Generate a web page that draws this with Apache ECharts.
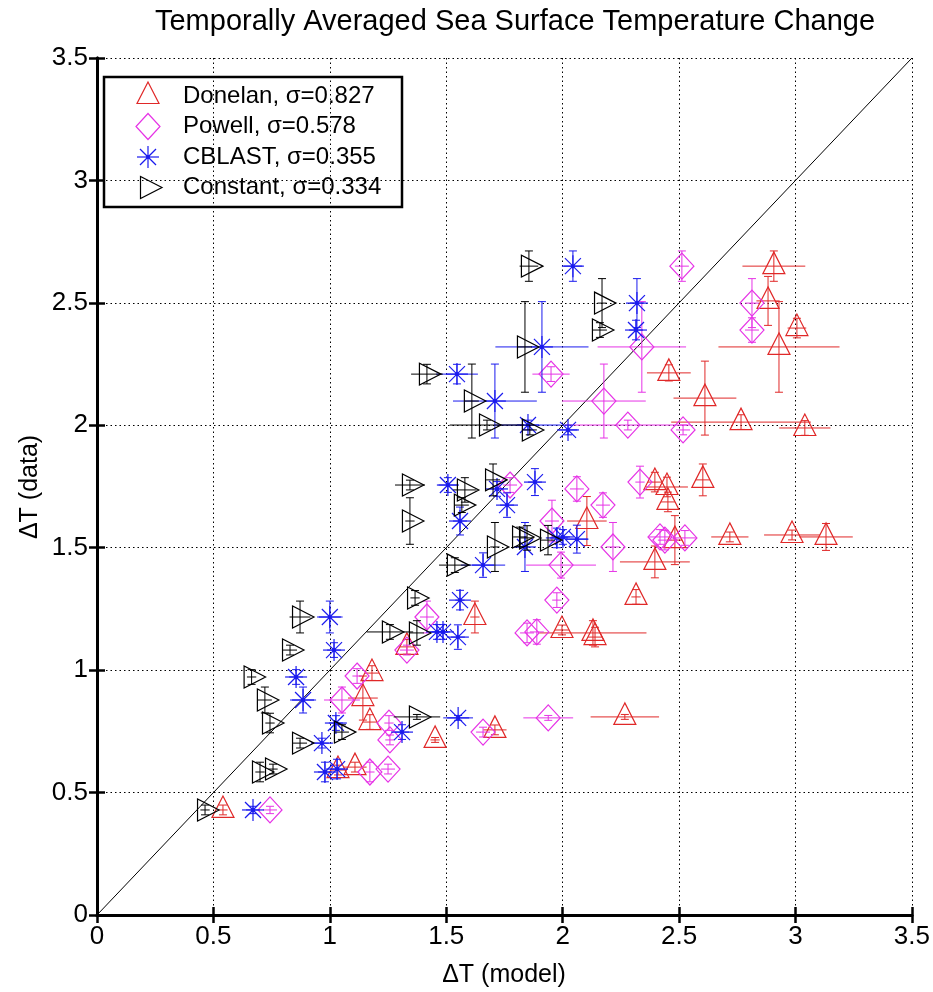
<!DOCTYPE html>
<html>
<head>
<meta charset="utf-8">
<script src="https://cdn.jsdelivr.net/npm/echarts@6/dist/echarts.min.js"></script>
<style>html,body{margin:0;padding:0;background:#fff}#main{width:933px;height:992px}</style>
</head>
<body>
<div id="main"></div>
<script>
// Donelan (red triangles)
var donelanX = [2.907, 2.882, 3.006, 2.929, 2.456, 2.611, 2.766, 3.040, 2.602, 2.396, 2.448, 2.452, 2.104, 2.482, 2.718, 2.985, 3.131, 2.396, 2.315, 1.623, 1.997, 2.130, 2.139, 1.331, 1.181, 1.142, 1.172, 2.267, 1.709, 1.452, 1.035, 1.108, 0.541];
var donelanY = [2.650, 2.508, 2.397, 2.320, 2.214, 2.111, 2.013, 1.989, 1.777, 1.768, 1.748, 1.687, 1.609, 1.531, 1.544, 1.552, 1.544, 1.442, 1.299, 1.217, 1.164, 1.152, 1.135, 1.095, 0.988, 0.886, 0.788, 0.809, 0.756, 0.715, 0.592, 0.604, 0.429];
var donelanXErr = [0.135, 0.05, 0.04, 0.26, 0.094, 0.135, 0.30, 0.11, 0.03, 0.03, 0.09, 0.03, 0.085, 0.03, 0.08, 0.12, 0.115, 0.15, 0.02, 0.02, 0.03, 0.23, 0.03, 0.03, 0.03, 0.064, 0.03, 0.147, 0.05, 0.02, 0.03, 0.05, 0.02];
var donelanYErr = [0.062, 0.10, 0.04, 0.185, 0.033, 0.151, 0.03, 0.03, 0.065, 0.04, 0.04, 0.04, 0.10, 0.10, 0.02, 0.02, 0.055, 0.065, 0.03, 0.065, 0.02, 0.05, 0.04, 0.03, 0.03, 0.09, 0.03, 0.01, 0.02, 0.01, 0.02, 0.02, 0.02];

// Powell (magenta diamonds)
var powellX = [2.512, 2.813, 2.813, 2.340, 1.950, 2.177, 2.280, 2.517, 2.332, 1.774, 2.061, 2.173, 1.954, 2.216, 2.418, 2.439, 2.525, 1.993, 1.975, 1.417, 1.847, 1.889, 1.331, 1.117, 1.052, 1.254, 1.938, 1.658, 1.258, 1.172, 1.250, 0.743];
var powellY = [2.650, 2.499, 2.389, 2.320, 2.209, 2.099, 2.001, 1.981, 1.768, 1.756, 1.740, 1.674, 1.609, 1.503, 1.544, 1.531, 1.540, 1.429, 1.286, 1.217, 1.152, 1.156, 1.082, 0.976, 0.878, 0.784, 0.805, 0.747, 0.715, 0.584, 0.596, 0.429];
var powellXErr = [0.03, 0.03, 0.03, 0.19, 0.08, 0.18, 0.27, 0.03, 0.02, 0.03, 0.03, 0.03, 0.03, 0.03, 0.05, 0.03, 0.05, 0.15, 0.02, 0.03, 0.03, 0.03, 0.03, 0.02, 0.077, 0.02, 0.107, 0.03, 0.02, 0.02, 0.03, 0.03];
var powellYErr = [0.062, 0.10, 0.05, 0.185, 0.03, 0.151, 0.02, 0.02, 0.065, 0.03, 0.05, 0.05, 0.085, 0.10, 0.03, 0.04, 0.03, 0.053, 0.03, 0.065, 0.04, 0.05, 0.02, 0.03, 0.053, 0.03, 0.01, 0.02, 0.02, 0.04, 0.02, 0.015];

// CBLAST (blue asterisks)
var cblastX = [2.044, 2.319, 2.315, 1.911, 1.546, 1.709, 1.851, 2.023, 1.881, 1.507, 1.718, 1.761, 1.559, 1.838, 1.975, 2.001, 2.061, 1.658, 1.559, 1.000, 1.460, 1.486, 1.550, 1.018, 0.855, 0.885, 1.026, 1.551, 1.310, 0.966, 0.979, 1.031, 0.670];
var cblastY = [2.650, 2.499, 2.389, 2.320, 2.209, 2.099, 2.001, 1.981, 1.768, 1.756, 1.740, 1.674, 1.609, 1.503, 1.540, 1.544, 1.535, 1.429, 1.286, 1.217, 1.156, 1.156, 1.135, 1.082, 0.972, 0.878, 0.784, 0.805, 0.747, 0.702, 0.584, 0.596, 0.429];
var cblastXErr = [0.04, 0.03, 0.03, 0.20, 0.09, 0.18, 0.14, 0.04, 0.03, 0.04, 0.03, 0.03, 0.03, 0.02, 0.03, 0.03, 0.05, 0.095, 0.02, 0.055, 0.03, 0.03, 0.03, 0.03, 0.03, 0.056, 0.03, 0.064, 0.03, 0.03, 0.03, 0.03, 0.03];
var cblastYErr = [0.062, 0.10, 0.04, 0.185, 0.04, 0.151, 0.02, 0.02, 0.055, 0.03, 0.03, 0.05, 0.057, 0.10, 0.04, 0.03, 0.057, 0.05, 0.04, 0.065, 0.03, 0.03, 0.05, 0.03, 0.03, 0.053, 0.03, 0.01, 0.03, 0.02, 0.04, 0.04, 0.015];

// Constant (black right triangles)
var constantX = [1.855, 2.169, 2.160, 1.838, 1.417, 1.610, 1.675, 1.859, 1.701, 1.344, 1.580, 1.567, 1.344, 1.709, 1.817, 1.847, 1.937, 1.537, 1.366, 0.872, 1.258, 1.374, 0.829, 0.664, 0.721, 1.374, 0.743, 1.052, 0.872, 0.700, 0.756, 0.464];
var constantY = [2.650, 2.499, 2.389, 2.320, 2.209, 2.099, 2.001, 1.981, 1.777, 1.756, 1.736, 1.674, 1.609, 1.503, 1.544, 1.540, 1.531, 1.429, 1.295, 1.217, 1.156, 1.152, 1.082, 0.972, 0.878, 0.809, 0.784, 0.747, 0.702, 0.584, 0.596, 0.429];
var constantXErr = [0.04, 0.02, 0.03, 0.03, 0.068, 0.03, 0.16, 0.03, 0.03, 0.064, 0.05, 0.03, 0.02, 0.02, 0.03, 0.03, 0.03, 0.068, 0.02, 0.045, 0.10, 0.03, 0.03, 0.02, 0.03, 0.10, 0.02, 0.03, 0.03, 0.02, 0.02, 0.02];
var constantYErr = [0.062, 0.10, 0.03, 0.185, 0.04, 0.151, 0.02, 0.02, 0.065, 0.02, 0.05, 0.03, 0.095, 0.10, 0.04, 0.05, 0.06, 0.03, 0.03, 0.065, 0.03, 0.05, 0.02, 0.03, 0.053, 0.01, 0.04, 0.03, 0.02, 0.04, 0.02, 0.02];

var seriesNames = ['Donelan, σ=0.827', 'Powell, σ=0.578', 'CBLAST, σ=0.355', 'Constant, σ=0.334'];
var oneToOne = [0, 3.5];

var RED = '#e02828', MAG = '#e633e6', BLUE = '#1a1aee', BLACK = '#000';
var FONT = '"Liberation Sans", Arial, Helvetica, sans-serif';

function rows(xs, ys, exs, eys) {
  return xs.map(function (x, i) { return [x, ys[i], exs[i], eys[i]]; });
}

function marker(kind, cx, cy, color) {
  var st = { stroke: color, fill: 'none', lineWidth: 1.2 };
  if (kind === 'up') {
    return [{ type: 'polygon', shape: { points: [[cx, cy - 14], [cx - 11, cy + 7.5], [cx + 11, cy + 7.5]] }, style: st }];
  }
  if (kind === 'right') {
    return [{ type: 'polygon', shape: { points: [[cx + 14, cy], [cx - 7.5, cy - 11], [cx - 7.5, cy + 11]] }, style: st }];
  }
  if (kind === 'diamond') {
    return [{ type: 'polygon', shape: { points: [[cx, cy - 13], [cx + 12, cy], [cx, cy + 13], [cx - 12, cy]] }, style: st }];
  }
  // asterisk
  var r = 11, d = 8;
  return [
    { type: 'line', shape: { x1: cx - r, y1: cy, x2: cx + r, y2: cy }, style: st },
    { type: 'line', shape: { x1: cx, y1: cy - r, x2: cx, y2: cy + r }, style: st },
    { type: 'line', shape: { x1: cx - d, y1: cy - d, x2: cx + d, y2: cy + d }, style: st },
    { type: 'line', shape: { x1: cx - d, y1: cy + d, x2: cx + d, y2: cy - d }, style: st },
    { type: 'circle', shape: { cx: cx, cy: cy, r: 2 }, style: { fill: color } }
  ];
}

function errorItem(kind, color) {
  return function (params, api) {
    var x = api.value(0), y = api.value(1), ex = api.value(2), ey = api.value(3);
    var c = api.coord([x, y]);
    var l = api.coord([x - ex, y]), r = api.coord([x + ex, y]);
    var t = api.coord([x, y + ey]), b = api.coord([x, y - ey]);
    var st = { stroke: color, lineWidth: 1, fill: 'none' };
    var kids = [
      { type: 'line', shape: { x1: l[0], y1: c[1], x2: r[0], y2: c[1] }, style: st },
      { type: 'line', shape: { x1: c[0], y1: t[1], x2: c[0], y2: b[1] }, style: st },
      { type: 'line', shape: { x1: c[0] - 4, y1: t[1], x2: c[0] + 4, y2: t[1] }, style: st },
      { type: 'line', shape: { x1: c[0] - 4, y1: b[1], x2: c[0] + 4, y2: b[1] }, style: st }
    ];
    return { type: 'group', children: kids.concat(marker(kind, c[0], c[1], color)) };
  };
}

function customSeries(name, data, kind, color) {
  return {
    name: name, type: 'custom', coordinateSystem: 'cartesian2d',
    encode: { x: 0, y: 1 }, data: data, renderItem: errorItem(kind, color), z: 3
  };
}

var kinds = ['up', 'diamond', 'star', 'right'];
var colors = [RED, MAG, BLUE, BLACK];

// legend drawn as graphics
var legendX = 104, legendY = 77, legendW = 298, legendH = 130, rowH = 30.5;
var legendKids = [{ type: 'rect', shape: { x: legendX, y: legendY, width: legendW, height: legendH }, style: { fill: '#fff', stroke: '#000', lineWidth: 2.5 } }];
seriesNames.forEach(function (n, i) {
  var cy = legendY + 19 + i * rowH;
  legendKids = legendKids.concat(marker(kinds[i], 148, cy, colors[i]));
  legendKids.push({ type: 'text', x: 183, y: cy, style: { text: n, font: '24px ' + FONT, fill: '#000', textAlign: 'left', textVerticalAlign: 'middle' } });
});

function axisBase(extra) {
  var a = {
    type: 'value', min: 0, max: 3.5, interval: 0.5,
    axisLine: { show: true, lineStyle: { color: '#000', width: 3 } },
    axisTick: { show: true, inside: true, length: 8, lineStyle: { color: '#000', width: 2.5 } },
    axisLabel: { show: false },
    splitLine: { show: false }
  };
  for (var k in extra) a[k] = extra[k];
  return a;
}

var labelStyle = { show: true, color: '#000', fontSize: 26, fontFamily: FONT, margin: 9 };
var gridLine = { show: true, lineStyle: { color: '#000', width: 1, type: [1.5, 3] } };

var chart = echarts.init(document.getElementById('main'));
chart.setOption({
  animation: false,
  backgroundColor: '#fff',
  grid: { left: 97, right: 21, top: 58, bottom: 77 },
  xAxis: [
    axisBase({ position: 'bottom', axisLabel: labelStyle, splitLine: gridLine }),
    axisBase({ position: 'top' })
  ],
  yAxis: [
    axisBase({ position: 'left', axisLabel: labelStyle, splitLine: gridLine }),
    axisBase({ position: 'right' })
  ],
  series: [
    { type: 'line', data: [[oneToOne[0], oneToOne[0]], [oneToOne[1], oneToOne[1]]], symbol: 'none', lineStyle: { color: '#000', width: 1 }, z: 2, silent: true },
    customSeries(seriesNames[0], rows(donelanX, donelanY, donelanXErr, donelanYErr), kinds[0], colors[0]),
    customSeries(seriesNames[1], rows(powellX, powellY, powellXErr, powellYErr), kinds[1], colors[1]),
    customSeries(seriesNames[2], rows(cblastX, cblastY, cblastXErr, cblastYErr), kinds[2], colors[2]),
    customSeries(seriesNames[3], rows(constantX, constantY, constantXErr, constantYErr), kinds[3], colors[3])
  ],
  graphic: [
    { type: 'text', x: 515, y: 22, z: 100, style: { text: 'Temporally Averaged Sea Surface Temperature Change', font: '29px ' + FONT, fill: '#000', textAlign: 'center', textVerticalAlign: 'middle' } },
    { type: 'text', x: 504, y: 975, z: 100, style: { text: 'ΔT (model)', font: '25px ' + FONT, fill: '#000', textAlign: 'center', textVerticalAlign: 'middle' } },
    { type: 'text', x: 30, y: 487, rotation: Math.PI / 2, z: 100, style: { text: 'ΔT (data)', font: '25px ' + FONT, fill: '#000', textAlign: 'center', textVerticalAlign: 'middle' } },
    { type: 'group', z: 100, children: legendKids }
  ]
});
</script>
</body>
</html>
